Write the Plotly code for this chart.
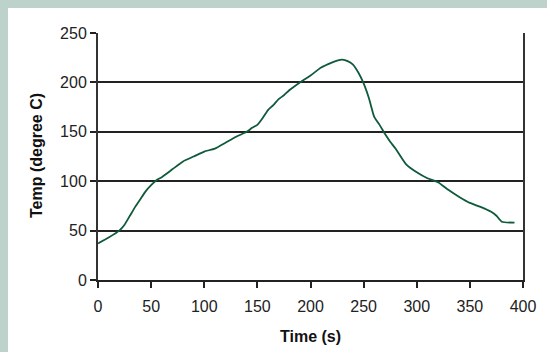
import plotly.graph_objects as go

# Data
time_s = [0, 10, 20, 25, 30, 35, 40, 45, 50, 55, 60, 70, 80, 90, 100, 110, 120, 130,
          140, 145, 150, 155, 160, 165, 170, 175, 180, 190, 200, 210, 220, 225, 230,
          235, 240, 245, 250, 255, 260, 265, 270, 275, 280, 290, 300, 310, 320, 330,
          340, 350, 360, 370, 375, 380, 392]
temp_c = [37, 43, 50, 56, 65, 74, 82, 90, 96, 101, 104, 112, 120, 125, 130, 133, 139, 145,
          150, 154, 157, 164, 172, 177, 183, 187, 192, 200, 207, 215, 220, 222, 223,
          221.5, 218, 210, 199, 184, 165, 157, 148, 140, 133, 117, 109, 103, 99, 91,
          84, 78, 74, 69, 65, 59, 58]

x_ticks = [0, 50, 100, 150, 200, 250, 300, 350, 400]
y_ticks = [0, 50, 100, 150, 200, 250]
x_title = "Time (s)"
y_title = "Temp (degree C)"

W, H = 547, 352
L, R, T, B = 98, 24, 33, 72
pw, ph = W - L - R, H - T - B

def px_x(p):
    return (p - L) / pw

def px_y(p):
    return 1 - (p - T) / ph

fig = go.Figure()
fig.add_trace(go.Scatter(
    x=time_s, y=temp_c, mode="lines",
    line=dict(color="#0e5a3a", width=1.8, shape="spline", smoothing=0.5),
    showlegend=False, hoverinfo="skip",
))

border = "#bdd2cb"
# grey-green band along the top and left edges
fig.add_shape(type="rect", xref="paper", yref="paper",
              x0=px_x(-10), x1=px_x(8), y0=px_y(H + 10), y1=px_y(-10),
              fillcolor=border, line=dict(width=0), layer="below")
fig.add_shape(type="rect", xref="paper", yref="paper",
              x0=px_x(-10), x1=px_x(W + 10), y0=px_y(8), y1=px_y(-10),
              fillcolor=border, line=dict(width=0), layer="below")

font = "Liberation Sans, Arial, sans-serif"
fig.add_annotation(text="<b>%s</b>" % x_title, xref="paper", yref="paper",
                   x=px_x(310), y=px_y(336), showarrow=False,
                   xanchor="center", yanchor="middle",
                   font=dict(family=font, size=16, color="#111"))
fig.add_annotation(text="<b>%s</b>" % y_title, xref="paper", yref="paper",
                   x=px_x(36), y=px_y(156), showarrow=False, textangle=-90,
                   xanchor="center", yanchor="middle",
                   font=dict(family=font, size=16, color="#111"))

fig.update_layout(
    width=W, height=H,
    margin=dict(l=L, r=R, t=T, b=B, pad=0),
    paper_bgcolor="white", plot_bgcolor="white",
    font=dict(family=font, size=16, color="#222"),
    xaxis=dict(
        range=[0, 400], tickvals=x_ticks, ticktext=[str(v) for v in x_ticks],
        automargin=False,
        showgrid=False, zeroline=False,
        showline=True, linecolor="#222", linewidth=2,
        ticks="outside", ticklen=6, tickwidth=1.5, tickcolor="#222",
        ticklabelstandoff=5,
        tickfont=dict(size=16, color="#222"),
    ),
    yaxis=dict(
        range=[0, 250], tickvals=y_ticks, ticktext=[str(v) for v in y_ticks],
        automargin=False,
        showgrid=True, gridcolor="#222", gridwidth=2,
        zeroline=False,
        showline=True, linecolor="#333", linewidth=2, mirror=True,
        ticks="outside", ticklen=6, tickwidth=1.5, tickcolor="#222",
        tickfont=dict(size=16, color="#222"),
    ),
)

fig.write_html("out.html", config={"displayModeBar": False},
               post_script="document.body.style.margin='0';document.body.style.overflow='hidden';")
